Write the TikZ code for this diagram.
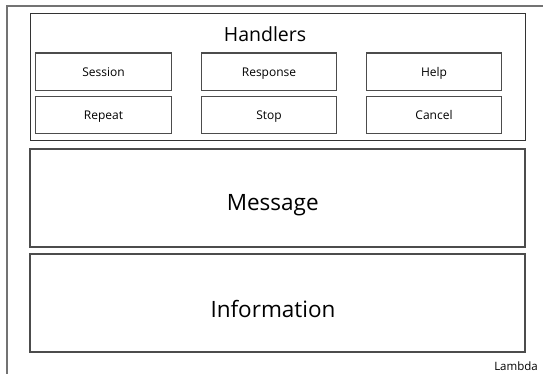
\documentclass[tikz,border=0pt]{standalone}
\usepackage{fontspec}
\setmainfont{Open Sans}
\begin{document}
\begin{tikzpicture}[x=1pt,y=-1pt,
  frame/.style={draw=black!55,line width=1.2pt},
  group/.style={draw=black!80,line width=1pt,rectangle,inner sep=0pt},
  big/.style={draw=black!70,line width=1.4pt,rectangle,inner sep=0pt,minimum width=495pt,minimum height=98pt},
  handler/.style={draw=black!70,line width=1.2pt,rectangle,inner sep=0pt,minimum width=135.5pt,minimum height=37.5pt,text height=8.6pt,text depth=0pt,font=\fontsize{12}{14}\selectfont},
  bigtext/.style={anchor=base,inner sep=0pt,font=\fontsize{22.5}{26}\selectfont},
]
\useasboundingbox[fill=white] (0,0) rectangle (543,374);
\draw[frame] (545,6) -- (7,6) -- (7,376);
\node[group,minimum width=495pt,minimum height=127pt] (handlers) at (277.5,77.5) {};
\node[anchor=base,inner sep=0pt,font=\fontsize{19.5}{22}\selectfont] (htitle) at (265,42) {Handlers};
\node[handler] (session) at (103.5,71.75) {Session};
\node[handler] (response) at (269,71.75) {Response};
\node[handler] (help) at (434,71.75) {Help};
\node[handler] (repeat) at (103.5,115) {Repeat};
\node[handler] (stop) at (269,115) {Stop};
\node[handler] (cancel) at (434,115) {Cancel};
\node[big] (message) at (277.5,198) {};
\node[bigtext] (mtext) at (272.7,211) {Message};
\node[big] (information) at (277.5,303) {};
\node[bigtext] (itext) at (273,317.7) {Information};
\node[anchor=base east,inner sep=0pt,font=\fontsize{11.5}{13}\selectfont] (lambda) at (538,370.5) {Lambda};
\end{tikzpicture}
\end{document}
